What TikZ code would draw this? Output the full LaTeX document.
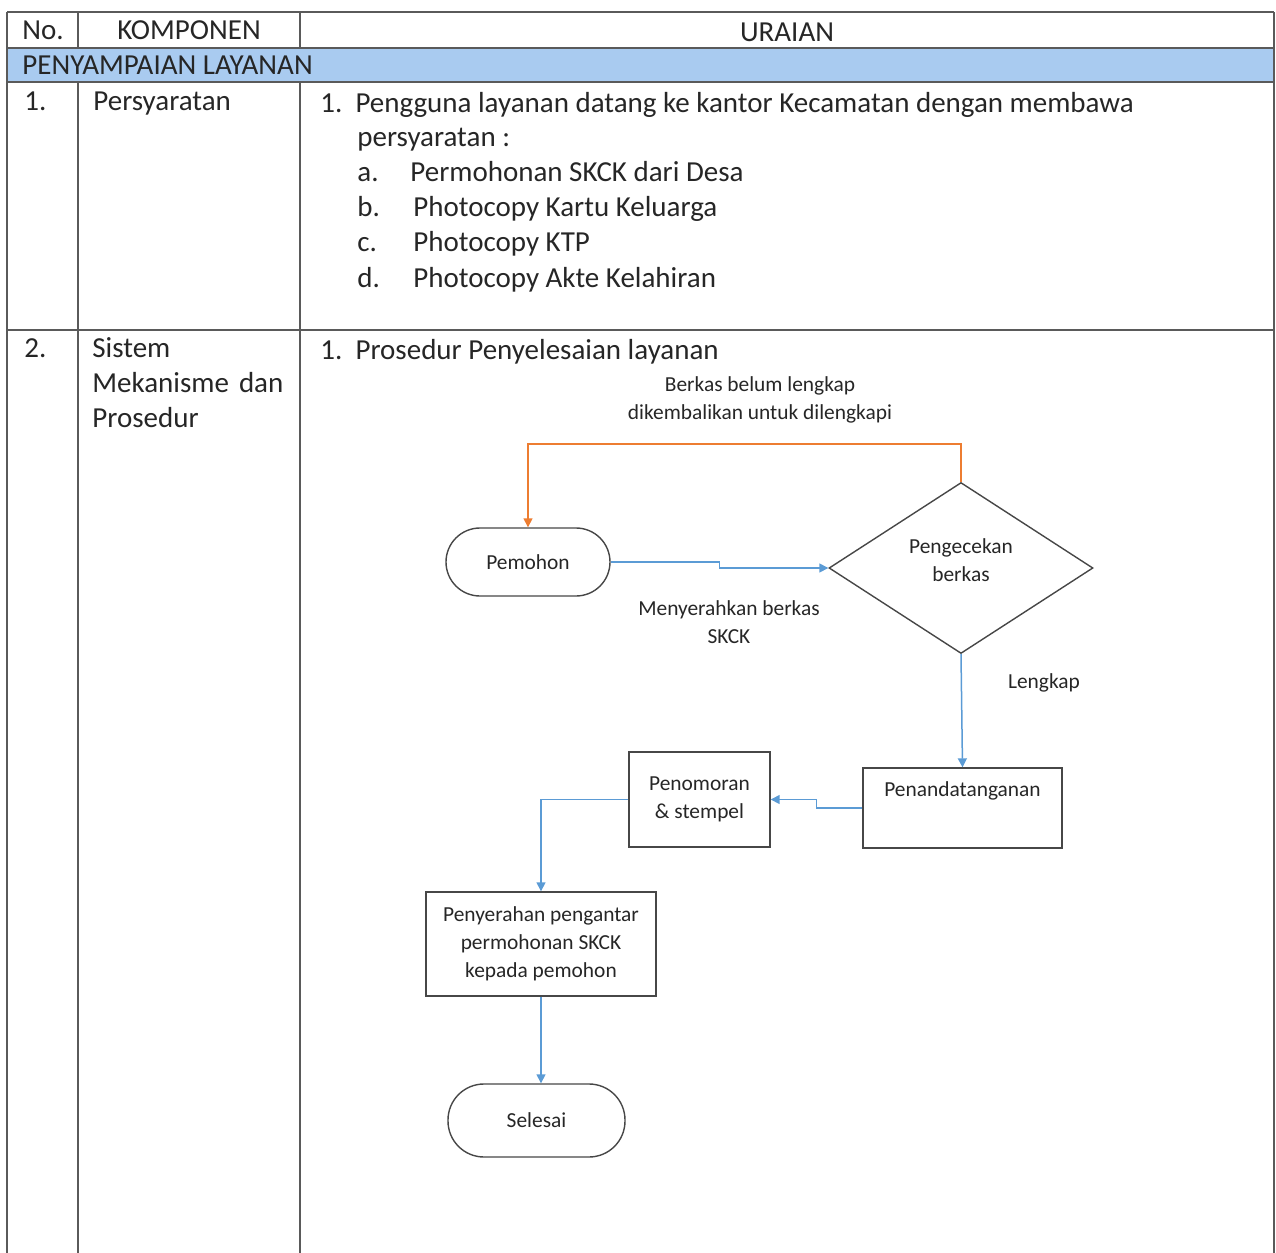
\documentclass[tikz,border=0pt]{standalone}
\usepackage{fontspec}
\setmainfont{Carlito}
\usetikzlibrary{arrows.meta,shapes.geometric,calc}
\definecolor{ink}{HTML}{262626}
\definecolor{rule}{HTML}{5A5A5A}
\definecolor{bandblue}{HTML}{A9CBF0}
\definecolor{flowblue}{HTML}{5B9BD5}
\definecolor{returnorange}{HTML}{ED7D31}
\tikzset{
  cell/.style={anchor=base west,inner sep=0pt,text=ink,font=\fontsize{14.5}{17}\selectfont},
  headcell/.style={cell,anchor=base},
  gridline/.style={draw=rule,line width=.6pt},
  flowtext/.style={font=\fontsize{10.7}{14}\selectfont,text=ink,align=center},
  terminal/.style={flowtext,draw=ink!85,line width=.7pt,rounded corners=17pt,
    minimum width=82pt,minimum height=34pt},
  process/.style={flowtext,draw=ink!85,line width=.7pt,inner sep=0pt},
  decision/.style={flowtext,diamond,draw=ink!85,line width=.7pt,
    minimum width=132pt,minimum height=85.5pt,inner sep=0pt},
  flow/.style={-{Triangle[length=4.5pt,width=4.5pt]},draw=flowblue,line width=.75pt},
  backflow/.style={flow,draw=returnorange},
}
\begin{document}
\begin{tikzpicture}[x=.5pt,y=-.5pt]
\useasboundingbox (0,0) rectangle (1276,1253);
% table grid
\fill[bandblue] (7,48) rectangle (1274,82);
\foreach \y in {12,48,82,330}\draw[gridline] (7,\y) -- (1274,\y);
\foreach \x in {7,1274}\draw[gridline] (\x,12) -- (\x,1253);
\foreach \x in {78,300}{\draw[gridline] (\x,12) -- (\x,48);\draw[gridline] (\x,82) -- (\x,1253);}
% header
\node[cell] (hno) at (22,39) {No.};
\node[headcell] (hkomp) at (189,39) {KOMPONEN};
\node[headcell] (hurai) at (787,41) {URAIAN};
\node[cell] (band) at (22,74) {PENYAMPAIAN LAYANAN};
% row 1
\node[cell] (n1) at (24,110) {1.};
\node[cell] (k1) at (93,110) {Persyaratan};
\node[cell] (u1) at (320,112) {1.\ \ Pengguna layanan datang ke kantor Kecamatan dengan membawa};
\node[cell] (u1b) at (357,146) {persyaratan :};
\foreach \l/\t/\x/\y in {a./Permohonan SKCK dari Desa/410/181,b./Photocopy Kartu Keluarga/413/216,
  c./Photocopy KTP/413/251,d./Photocopy Akte Kelahiran/413/287}{
  \node[cell] at (357,\y) {\l};\node[cell] at (\x,\y) {\t};}
% row 2
\node[cell] (n2) at (24,357) {2.};
\node[cell] (k2a) at (92,357) {Sistem};
\node[cell] (k2b) at (92,392) {\makebox[95.5pt][s]{Mekanisme dan}};
\node[cell] (k2c) at (92,427) {Prosedur};
\node[cell] (u2) at (320,359) {1.\ \ Prosedur Penyelesaian layanan};
% flowchart
\node[terminal] (pemohon) at (528,562) {Pemohon};
\node[decision] (check) at (961,568) {Pengecekan\\berkas\vphantom{g}\\[-6pt]};
\node[process,minimum width=99.5pt,minimum height=40pt,text height=14pt,text depth=26pt] (sign) at (962.5,808) {Penandatanganan};
\node[process,minimum width=70.5pt,minimum height=47.5pt] (number) at (699.5,799.5) {Penomoran\\\& stempel};
\node[process,minimum width=115pt,minimum height=52pt] (hand) at (541,944) {Penyerahan pengantar\\permohonan SKCK\\kepada pemohon};
\node[terminal,minimum width=88.5pt,minimum height=36.5pt,rounded corners=18pt] (finish) at (536.5,1120.5) {Selesai};
\node[flowtext] (retnote) at (760,400) {Berkas belum lengkap\\dikembalikan untuk dilengkapi};
\node[flowtext] (sendnote) at (729,622) {Menyerahkan berkas\\SKCK};
\node[flowtext] (oknote) at (1044,683) {Lengkap};
\draw[backflow] (check.north) -- ++(0,-38) -| (pemohon.north);
\draw[flow] (pemohon.east) -| ($(pemohon.east)!.5!(check.west)$) |- (check.west);
\draw[flow] (check.south) -- (sign.north);
\draw[flow] (sign.west) -| ($(sign.west)!.5!(number.east)$) |- (number.east);
\draw[flow] (number.west) -| (hand.north);
\draw[flow] (hand.south) -- (hand.south |- finish.north);
\end{tikzpicture}
\end{document}
